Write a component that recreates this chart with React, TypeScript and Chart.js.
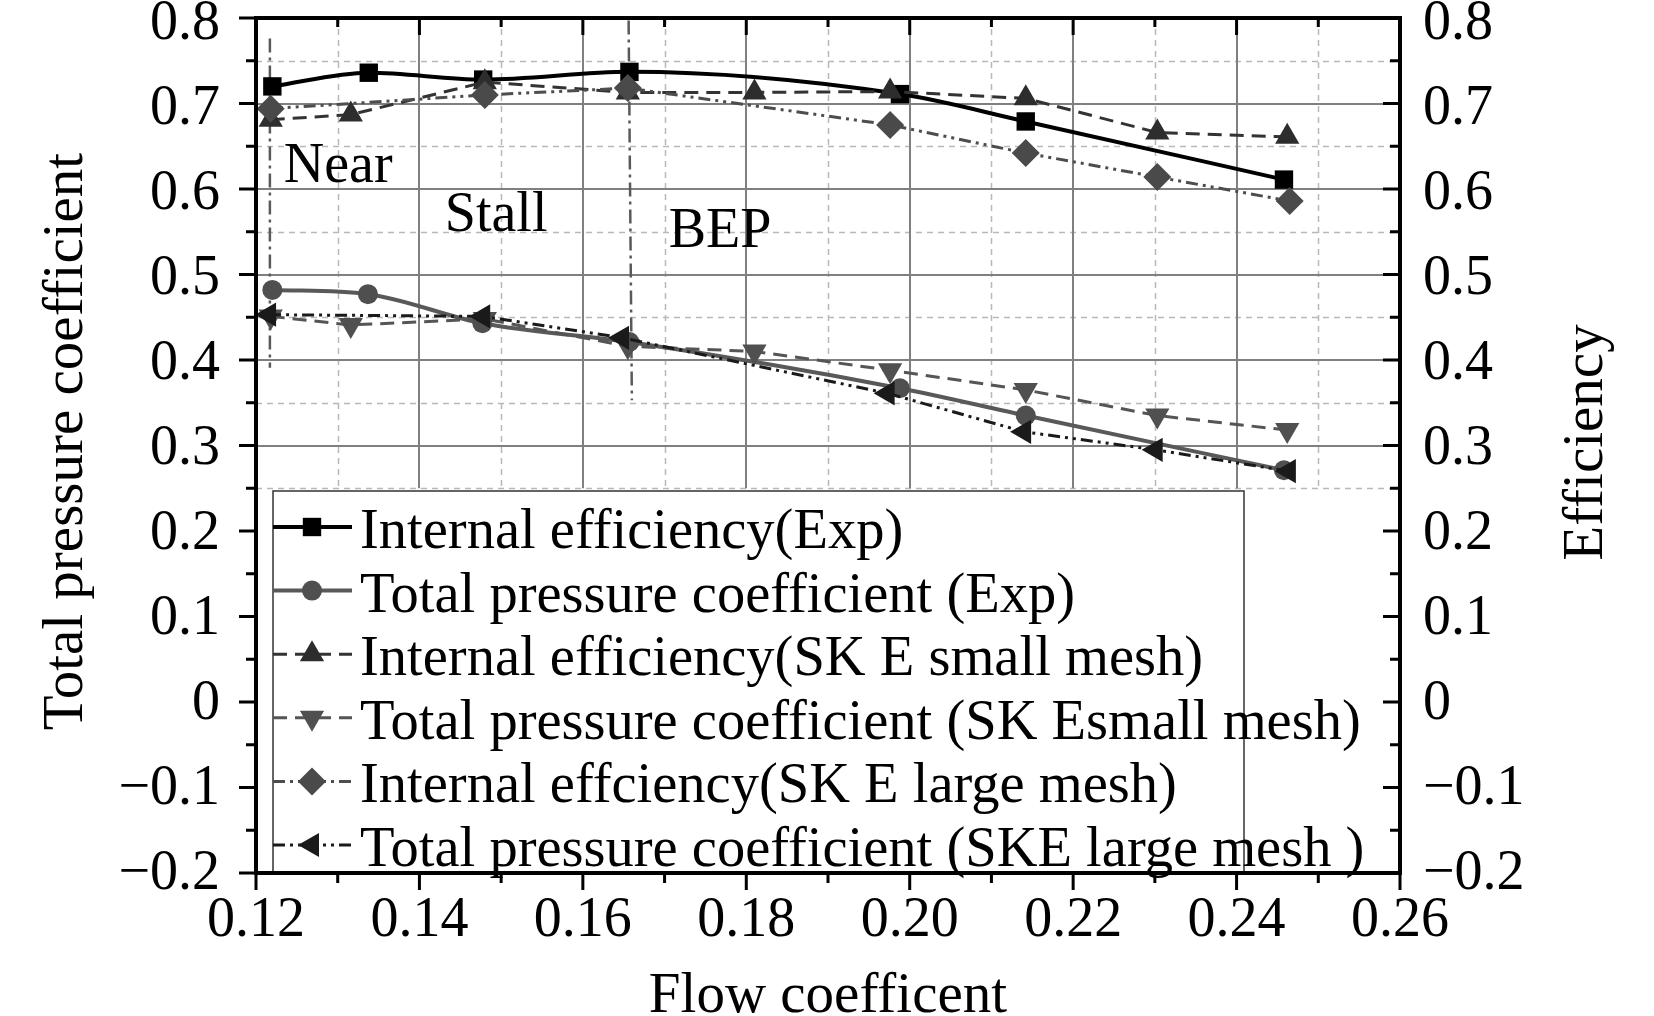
import React, { useEffect, useRef } from 'react';
import { Chart, registerables } from 'chart.js';
import { drawPoint } from 'chart.js/helpers';

Chart.register(...registerables);

const FONT = "'Liberation Serif', 'Times New Roman', Times, serif";

// ---------- data ----------
const xEffExp = [0.122, 0.1338, 0.1478, 0.1657, 0.1988, 0.2142, 0.2458];
const yEffExp = [0.720, 0.736, 0.728, 0.737, 0.711, 0.679, 0.611];

const xPresExp = [0.122, 0.1337, 0.1477, 0.1657, 0.1988, 0.2142, 0.2458];
const yPresExp = [0.482, 0.477, 0.443, 0.421, 0.367, 0.335, 0.271];

const xSmall = [0.1218, 0.1316, 0.148, 0.1655, 0.181, 0.1976, 0.2142, 0.2303, 0.2462];
const yEffSmall = [0.681, 0.687, 0.725, 0.713, 0.713, 0.714, 0.706, 0.666, 0.661];
const yPresSmall = [0.451, 0.441, 0.448, 0.416, 0.410, 0.388, 0.365, 0.335, 0.318];

const xEffLarge = [0.1218, 0.148, 0.1655, 0.1976, 0.2142, 0.2303, 0.2465];
const yEffLarge = [0.694, 0.710, 0.718, 0.675, 0.642, 0.614, 0.586];

const xPresLarge = [0.1216, 0.1478, 0.1648, 0.1973, 0.214, 0.2301, 0.2464];
const yPresLarge = [0.453, 0.451, 0.426, 0.361, 0.316, 0.295, 0.270];

const seriesLabels = [
  'Internal efficiency(Exp)',
  'Total pressure coefficient (Exp)',
  'Internal efficiency(SK E small mesh)',
  'Total pressure coefficient (SK Esmall mesh)',
  'Internal effciency(SK E large mesh)',
  'Total pressure coefficient (SKE large mesh )',
];

// region marker lines
const nearLineX = [0.1217, 0.1217];
const nearLineY = [0.776, 0.391];
const bepLineX = [0.1656, 0.166];
const bepLineY = [0.797, 0.353];

// region notes
const noteText = ['Near', 'Stall', 'BEP'];
const noteX = [0.1234, 0.1431, 0.1705];
const noteY = [0.608, 0.551, 0.532];

const xMin = 0.12, xMax = 0.26, xStep = 0.02;
const yMin = -0.2, yMax = 0.8, yStep = 0.1;
const gridFloor = 0.25;

const xTitle = 'Flow coefficent';
const yLeftTitle = 'Total pressure coefficient';
const yRightTitle = 'Efficiency';

// ---------- helpers ----------
const pts = (xs: number[], ys: number[]) => xs.map((x, i) => ({ x, y: ys[i] }));

const fmtY = (v: number) => {
  if (Math.abs(v) < 1e-9) return '0';
  return v < 0 ? '\u2212' + Math.abs(v).toFixed(1) : v.toFixed(1);
};

const LEGEND = {
  left: 273, top: 491, right: 1244,
  row0: 527, rowStep: 63.6,
  lineX0: 273, lineX1: 352, markX: 312, textX: 360,
};

const labelShift = (v: number) => 1 + 5 * (v - yMin) / (yMax - yMin);

const framePlugin = {
  id: 'framePlugin',
  beforeDatasetsDraw(chart: any) {
    const { ctx, chartArea: a, scales } = chart;
    const xs = scales.x, ys = scales.y;
    const yF = ys.getPixelForValue(gridFloor);
    const xt = xs.ticks.map((t: any) => t.value);
    const yt = ys.ticks.map((t: any) => t.value);
    ctx.save();
    // minor dashed grid
    ctx.strokeStyle = '#b8b8b8';
    ctx.lineWidth = 1.5;
    ctx.setLineDash([6, 5]);
    ctx.beginPath();
    for (let i = 0; i < xt.length - 1; i++) {
      const px = Math.round(xs.getPixelForValue((xt[i] + xt[i + 1]) / 2)) + 0.5;
      ctx.moveTo(px, a.top);
      ctx.lineTo(px, yF);
    }
    for (let i = 0; i < yt.length - 1; i++) {
      const v = (yt[i] + yt[i + 1]) / 2;
      if (v < gridFloor - 1e-9) continue;
      const py = Math.round(ys.getPixelForValue(v)) + 0.5;
      ctx.moveTo(a.left, py);
      ctx.lineTo(a.right, py);
    }
    ctx.stroke();
    // major solid grid
    ctx.setLineDash([]);
    ctx.strokeStyle = '#808080';
    ctx.lineWidth = 2;
    ctx.beginPath();
    for (let i = 1; i < xt.length - 1; i++) {
      const px = Math.round(xs.getPixelForValue(xt[i]));
      ctx.moveTo(px, a.top);
      ctx.lineTo(px, yF);
    }
    for (let i = 0; i < yt.length; i++) {
      const v = yt[i];
      if (v < gridFloor - 1e-9 || v > yMax - 1e-9) continue;
      const py = Math.round(ys.getPixelForValue(v));
      ctx.moveTo(a.left, py);
      ctx.lineTo(a.right, py);
    }
    ctx.stroke();
    ctx.restore();
  },
  afterDatasetsDraw(chart: any) {
    const { ctx, chartArea: a, scales } = chart;
    const xs = scales.x, ys = scales.y;
    ctx.save();
    // notes
    ctx.fillStyle = '#000';
    ctx.font = `56px ${FONT}`;
    ctx.textAlign = 'left';
    ctx.textBaseline = 'alphabetic';
    noteText.forEach((t, i) => {
      ctx.fillText(t, xs.getPixelForValue(noteX[i]), ys.getPixelForValue(noteY[i]));
    });
    // legend background + frame
    ctx.fillStyle = '#fff';
    ctx.fillRect(LEGEND.left, LEGEND.top, a.right - LEGEND.left - 2, a.bottom - LEGEND.top);
    ctx.strokeStyle = '#333';
    ctx.lineWidth = 1.5;
    ctx.strokeRect(LEGEND.left, LEGEND.top, LEGEND.right - LEGEND.left, a.bottom - LEGEND.top - 1);
    // legend entries
    const dsets = chart.data.datasets.slice(0, seriesLabels.length);
    dsets.forEach((ds: any, i: number) => {
      const cy = LEGEND.row0 + i * LEGEND.rowStep;
      ctx.save();
      ctx.strokeStyle = ds.borderColor;
      ctx.lineWidth = ds.borderWidth;
      ctx.setLineDash(ds.borderDash || []);
      ctx.beginPath();
      ctx.moveTo(LEGEND.lineX0, cy);
      ctx.lineTo(LEGEND.lineX1, cy);
      ctx.stroke();
      ctx.setLineDash([]);
      ctx.fillStyle = ds.pointBackgroundColor;
      drawPoint(ctx, {
        pointStyle: ds.pointStyle,
        rotation: ds.pointRotation || 0,
        radius: ds.pointRadius,
        borderWidth: 0,
      } as any, LEGEND.markX, cy);
      ctx.restore();
      ctx.fillStyle = '#000';
      ctx.font = `56.5px ${FONT}`;
      ctx.textAlign = 'left';
      ctx.textBaseline = 'alphabetic';
      ctx.fillText(seriesLabels[i], LEGEND.textX, cy + 21);
    });
    ctx.restore();
  },
  afterDraw(chart: any) {
    const { ctx, chartArea: a, scales } = chart;
    const xs = scales.x, ys = scales.y;
    const xt = xs.ticks.map((t: any) => t.value);
    const yt = ys.ticks.map((t: any) => t.value);
    ctx.save();
    ctx.strokeStyle = '#000';
    ctx.lineWidth = 3;
    ctx.beginPath();
    const MAJ = 17, MIN = 10;
    for (let i = 0; i < yt.length; i++) {
      const py = ys.getPixelForValue(yt[i]);
      ctx.moveTo(a.left, py); ctx.lineTo(a.left - MAJ, py);
      ctx.moveTo(a.right, py); ctx.lineTo(a.right - MAJ, py);
      if (i < yt.length - 1) {
        const pm = ys.getPixelForValue((yt[i] + yt[i + 1]) / 2);
        ctx.moveTo(a.left, pm); ctx.lineTo(a.left - MIN, pm);
        ctx.moveTo(a.right, pm); ctx.lineTo(a.right - MIN, pm);
      }
    }
    for (let i = 0; i < xt.length; i++) {
      const px = xs.getPixelForValue(xt[i]);
      ctx.moveTo(px, a.top); ctx.lineTo(px, a.top + MAJ);
      ctx.moveTo(px, a.bottom); ctx.lineTo(px, a.bottom + MAJ);
      if (i < xt.length - 1) {
        const pm = xs.getPixelForValue((xt[i] + xt[i + 1]) / 2);
        ctx.moveTo(pm, a.top); ctx.lineTo(pm, a.top + 9);
        ctx.moveTo(pm, a.bottom); ctx.lineTo(pm, a.bottom + MIN);
      }
    }
    ctx.stroke();
    ctx.lineWidth = 4;
    ctx.strokeRect(a.left, a.top, a.right - a.left, a.bottom - a.top);

    // y tick labels (both sides), from the scales' own ticks
    ctx.fillStyle = '#000';
    ctx.font = `56px ${FONT}`;
    ctx.textBaseline = 'middle';
    ys.ticks.forEach((t: any) => {
      const py = ys.getPixelForValue(t.value) + labelShift(t.value);
      ctx.textAlign = 'right';
      ctx.fillText(fmtY(t.value), a.left - 36, py);
    });
    const y2 = scales.y2;
    y2.ticks.forEach((t: any) => {
      const py = y2.getPixelForValue(t.value) + labelShift(t.value);
      ctx.textAlign = 'left';
      ctx.fillText(fmtY(t.value), a.right + 23, py);
    });

    // titles
    ctx.font = `57px ${FONT}`;
    ctx.textAlign = 'center';
    ctx.textBaseline = 'alphabetic';
    ctx.fillText(xTitle, (a.left + a.right) / 2, a.bottom + 139);
    const cy = (a.top + a.bottom) / 2;
    ctx.save();
    ctx.translate(a.left - 174, cy - 4);
    ctx.rotate(-Math.PI / 2);
    ctx.fillText(yLeftTitle, 0, 0);
    ctx.restore();
    ctx.save();
    ctx.translate(a.right + 202, cy - 3);
    ctx.rotate(-Math.PI / 2);
    ctx.fillText(yRightTitle, 0, 0);
    ctx.restore();
    ctx.restore();
  },
};

export default function App() {
  const canvasRef = useRef<HTMLCanvasElement | null>(null);

  useEffect(() => {
    if (!canvasRef.current) return;
    const mk = (
      i: number, xs: number[], ys: number[], axis: string, color: string, pointColor: string,
      width: number, dash: number[], style: string, radius: number, rot: number, smooth: boolean,
    ) => ({
      label: seriesLabels[i],
      data: pts(xs, ys),
      yAxisID: axis,
      borderColor: color,
      backgroundColor: pointColor,
      pointBackgroundColor: pointColor,
      pointBorderColor: pointColor,
      pointBorderWidth: 0,
      borderWidth: width,
      borderDash: dash,
      pointStyle: style,
      pointRadius: radius,
      pointRotation: rot,
      tension: smooth ? 0.4 : 0,
      cubicInterpolationMode: smooth ? 'monotone' : 'default',
      fill: false,
      order: 6 - i,
    });
    const refLine = (xs: number[], ys: number[]) => ({
      label: '',
      data: pts(xs, ys),
      yAxisID: 'y',
      borderColor: '#5a5a5a',
      borderWidth: 2.5,
      borderDash: [14, 5, 3, 5],
      pointRadius: 0,
      tension: 0,
      fill: false,
      order: 20,
    });

    const yTicks = (pad: number) => ({
      display: false,
      stepSize: yStep,
      padding: pad,
      color: '#000',
      font: { family: FONT, size: 56 },
      callback: (v: any) => fmtY(Number(v)),
    });

    const chart = new Chart(canvasRef.current, {
      type: 'line',
      data: {
        datasets: [
          mk(0, xEffExp, yEffExp, 'y2', '#000000', '#000000', 4, [], 'rect', 13, 0, true),
          mk(1, xPresExp, yPresExp, 'y', '#595959', '#4f4f4f', 4, [], 'circle', 10, 0, true),
          mk(2, xSmall, yEffSmall, 'y2', '#333333', '#2d2d2d', 3, [14, 8], 'triangle', 14, 0, false),
          mk(3, xSmall, yPresSmall, 'y', '#555555', '#505050', 3, [14, 8], 'triangle', 14, 180, false),
          mk(4, xEffLarge, yEffLarge, 'y2', '#4d4d4d', '#4a4a4a', 3, [12, 5, 3, 5, 3, 5], 'rectRot', 14, 0, false),
          mk(5, xPresLarge, yPresLarge, 'y', '#1a1a1a', '#1a1a1a', 3, [12, 5, 3, 5, 3, 5], 'triangle', 14, -90, false),
          refLine(nearLineX, nearLineY),
          refLine(bepLineX, bepLineY),
        ] as any,
      },
      options: {
        animation: false,
        responsive: true,
        maintainAspectRatio: false,
        layout: { padding: { top: 18, left: 0, right: 0, bottom: 0 } },
        plugins: {
          legend: { display: false },
          tooltip: { enabled: false },
          title: { display: false },
        },
        events: [],
        scales: {
          x: {
            type: 'linear',
            position: 'bottom',
            min: xMin,
            max: xMax,
            border: { display: false },
            grid: { display: false, drawTicks: false },
            ticks: {
              stepSize: xStep,
              maxRotation: 0,
              autoSkip: false,
              padding: 15,
              color: '#000',
              font: { family: FONT, size: 56 },
              callback: (v: any) => Number(v).toFixed(2),
            },
            afterFit: (s: any) => {
              s.height = 143;
              s.paddingLeft = 0; s.paddingRight = 0;
            },
          },
          y: {
            type: 'linear',
            position: 'left',
            min: yMin,
            max: yMax,
            border: { display: false },
            grid: { display: false, drawTicks: false },
            ticks: yTicks(36),
            afterFit: (s: any) => {
              s.width = 256;
              s.paddingTop = 0; s.paddingBottom = 0;
            },
          },
          y2: {
            type: 'linear',
            position: 'right',
            min: yMin,
            max: yMax,
            border: { display: false },
            grid: { display: false, drawTicks: false },
            ticks: yTicks(23),
            afterFit: (s: any) => {
              s.width = 254;
              s.paddingTop = 0; s.paddingBottom = 0;
            },
          },
        },
      } as any,
      plugins: [framePlugin],
    });
    return () => chart.destroy();
  }, []);

  return (
    <div style={{ position: 'absolute', left: 0, top: 0, width: 1654, height: 1016, background: '#fff' }}>
      <canvas ref={canvasRef} />
    </div>
  );
}
